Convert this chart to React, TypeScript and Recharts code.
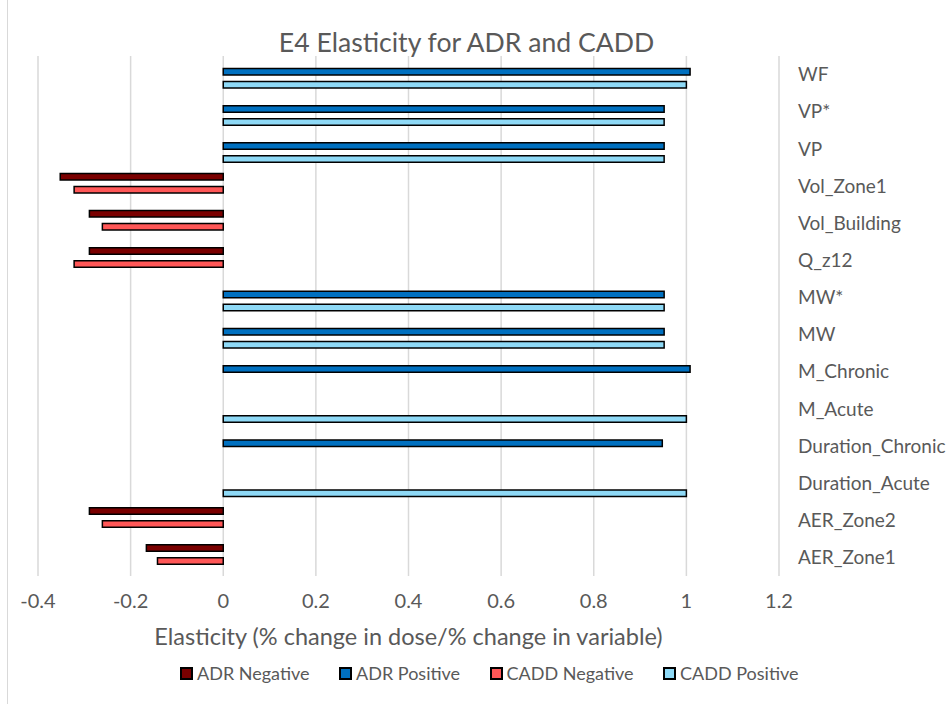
import React from 'react';
import { BarChart, Bar, XAxis, YAxis, CartesianGrid, Legend } from 'recharts';

const categories = ['WF', 'VP*', 'VP', 'Vol_Zone1', 'Vol_Building', 'Q_z12', 'MW*', 'MW', 'M_Chronic', 'M_Acute', 'Duration_Chronic', 'Duration_Acute', 'AER_Zone2', 'AER_Zone1'];
const adrNegative = [null, null, null, -0.352, -0.289, -0.289, null, null, null, null, null, null, -0.289, -0.166];
const adrPositive = [1.008, 0.952, 0.952, null, null, null, 0.952, 0.952, 1.008, null, 0.948, null, null, null];
const caddNegative = [null, null, null, -0.322, -0.261, -0.322, null, null, null, null, null, null, -0.261, -0.142];
const caddPositive = [1.0, 0.952, 0.952, null, null, null, 0.952, 0.952, null, 1.0, null, 1.0, null, null];
const xTicks = [-0.4, -0.2, 0, 0.2, 0.4, 0.6, 0.8, 1, 1.2];

const title = 'E4 Elasticity for ADR and CADD';
const xTitle = 'Elasticity (% change in dose/% change in variable)';

const series = [
  { key: 'adrNeg', name: 'ADR Negative', color: '#7A0000', values: adrNegative },
  { key: 'adrPos', name: 'ADR Positive', color: '#0070C0', values: adrPositive },
  { key: 'caddNeg', name: 'CADD Negative', color: '#FF5757', values: caddNegative },
  { key: 'caddPos', name: 'CADD Positive', color: '#8ED9F6', values: caddPositive },
];

const data = categories.map((c, i) => {
  const row: any = { name: c };
  series.forEach((s) => { row[s.key] = s.values[i]; });
  return row;
});

const FONT = 'Lato, "Noto Sans", sans-serif';
const GRAY = '#595959';

const LegendContent = () => (
  <div style={{ display: 'flex', alignItems: 'center', paddingLeft: 180, fontFamily: FONT, fontSize: 18, color: GRAY, height: 36 }}>
    {series.map((s, i) => (
      <div key={s.key} style={{ display: 'flex', alignItems: 'center', marginRight: i < series.length - 1 ? 29.5 : 0 }}>
        <span style={{ display: 'inline-block', width: 13, height: 13, boxSizing: 'border-box', border: '2px solid #000', background: s.color, marginRight: 4 }} />
        <span style={{ whiteSpace: 'nowrap' }}>{s.name}</span>
      </div>
    ))}
  </div>
);

export default function App() {
  return (
    <div style={{ position: 'absolute', left: 0, top: 0, width: 952, height: 704, background: '#fff' }}>
      <div style={{ position: 'absolute', left: 7, top: 0, width: 1, height: 704, background: '#D9D9D9' }} />
      <BarChart
        width={952}
        height={704}
        data={data}
        layout="vertical"
        margin={{ top: 56, right: 0, bottom: 98, left: 38 }}
        barGap={0}
        barSize={6.5}
        style={{ fontFamily: FONT }}
      >
        <CartesianGrid horizontal={false} vertical={true} stroke="#D9D9D9" strokeWidth={1.5} />
        <XAxis
          type="number"
          domain={[-0.4, 1.2]}
          ticks={xTicks}
          axisLine={false}
          tickLine={false}
          tickSize={0}
          tickMargin={18}
          height={30}
          tick={{ fill: GRAY, fontSize: 20, fontFamily: FONT }}
          label={{ value: xTitle, position: 'bottom', offset: 22.3, fill: GRAY, fontSize: 23.5, fontFamily: FONT }}
        />
        <YAxis
          type="category"
          dataKey="name"
          orientation="right"
          axisLine={false}
          tickLine={false}
          tickSize={0}
          tickMargin={19}
          width={173}
          interval={0}
          tick={{ fill: GRAY, fontSize: 19, fontFamily: FONT, textAnchor: 'start' }}
        />
        {series.map((s) => (
          <Bar key={s.key} dataKey={s.key} name={s.name} fill={s.color} stroke="#000" strokeWidth={1.5} isAnimationActive={false} />
        ))}
        <Legend
          layout="horizontal"
          verticalAlign="middle"
          align="center"
          wrapperStyle={{ left: 0, top: 655, width: 952, height: 36 }}
          content={() => <LegendContent />}
        />
      </BarChart>
      <svg width={952} height={704} style={{ position: 'absolute', left: 0, top: 0, pointerEvents: 'none' }}>
        <text x={466.5} y={52} textAnchor="middle" fill={GRAY} fontSize={26.6} fontFamily={FONT}>{title}</text>
      </svg>
    </div>
  );
}
